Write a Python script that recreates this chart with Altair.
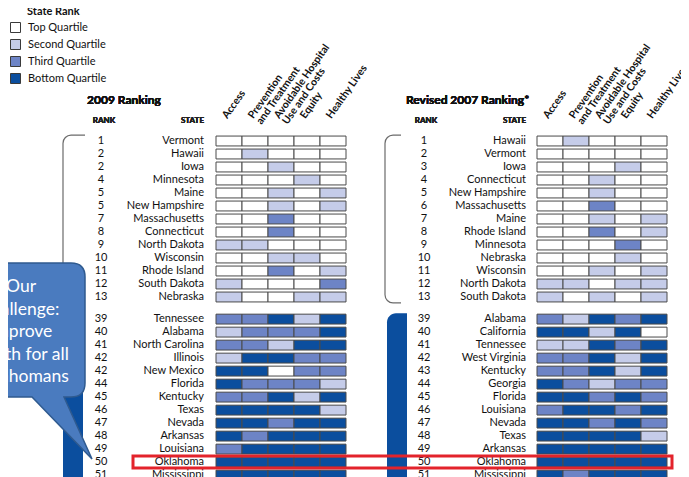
import altair as alt
import pandas as pd

# ---------------- data ----------------
measures = ["Access", "Prevention and Treatment", "Avoidable Hospital Use and Costs", "Equity", "Healthy Lives"]
header_labels = ["Access", "Prevention|and Treatment", "Avoidable Hospital|Use and Costs", "Equity", "Healthy Lives"]
quartiles = ["Top Quartile", "Second Quartile", "Third Quartile", "Bottom Quartile"]
quartile_colors = ["#ffffff", "#c5cce9", "#6d84c6", "#0b4e9e"]

ranks_2009 = [1, 2, 2, 4, 5, 5, 7, 8, 9, 10, 11, 12, 13, 39, 40, 41, 42, 42, 44, 45, 46, 47, 48, 49, 50, 51]
states_2009 = ["Vermont", "Hawaii", "Iowa", "Minnesota", "Maine", "New Hampshire", "Massachusetts",
               "Connecticut", "North Dakota", "Wisconsin", "Rhode Island", "South Dakota", "Nebraska",
               "Tennessee", "Alabama", "North Carolina", "Illinois", "New Mexico", "Florida", "Kentucky",
               "Texas", "Nevada", "Arkansas", "Louisiana", "Oklahoma", "Mississippi"]
access_2009 = [1, 1, 1, 1, 1, 1, 1, 1, 2, 1, 1, 2, 2, 3, 2, 3, 2, 4, 4, 3, 4, 4, 4, 3, 4, 4]
prevention_2009 = [1, 2, 1, 1, 1, 1, 1, 1, 2, 1, 1, 1, 1, 3, 3, 3, 4, 4, 3, 3, 4, 4, 3, 4, 4, 4]
avoidable_2009 = [1, 1, 2, 1, 2, 2, 3, 3, 1, 2, 3, 1, 1, 4, 3, 2, 4, 1, 3, 4, 4, 3, 4, 4, 4, 4]
equity_2009 = [1, 1, 1, 2, 1, 1, 1, 1, 1, 2, 1, 1, 2, 2, 3, 4, 3, 3, 3, 2, 4, 4, 4, 4, 4, 4]
healthy_2009 = [1, 1, 1, 1, 2, 2, 1, 1, 1, 1, 2, 3, 2, 4, 4, 4, 3, 3, 2, 4, 2, 4, 4, 4, 4, 4]

ranks_2007 = [1, 2, 3, 4, 5, 6, 7, 8, 9, 10, 11, 12, 13, 39, 40, 41, 42, 43, 44, 45, 46, 47, 48, 49, 50, 51]
states_2007 = ["Hawaii", "Vermont", "Iowa", "Connecticut", "New Hampshire", "Massachusetts", "Maine",
               "Rhode Island", "Minnesota", "Nebraska", "Wisconsin", "North Dakota", "South Dakota",
               "Alabama", "California", "Tennessee", "West Virginia", "Kentucky", "Georgia", "Florida",
               "Louisiana", "Nevada", "Texas", "Arkansas", "Oklahoma", "Mississippi"]
access_2007 = [1, 1, 1, 1, 1, 1, 1, 1, 1, 1, 1, 2, 2, 3, 4, 2, 3, 3, 4, 4, 3, 4, 4, 4, 4, 4]
prevention_2007 = [2, 1, 1, 1, 1, 1, 1, 1, 1, 1, 1, 2, 1, 2, 4, 2, 3, 3, 3, 4, 4, 4, 4, 4, 4, 3]
avoidable_2007 = [1, 1, 1, 2, 2, 3, 2, 3, 1, 1, 2, 1, 2, 4, 2, 4, 4, 4, 2, 3, 4, 3, 4, 4, 4, 4]
equity_2007 = [1, 1, 2, 1, 1, 1, 1, 1, 3, 2, 1, 2, 1, 3, 4, 3, 2, 2, 3, 4, 3, 4, 4, 4, 4, 4]
healthy_2007 = [1, 1, 1, 1, 1, 1, 2, 2, 1, 1, 2, 2, 2, 4, 1, 4, 4, 4, 3, 3, 4, 3, 2, 4, 4, 4]

bubble_lines = ["Our", "challenge:", "Improve", "health for all", "Oklahomans"]
highlight_state = "Oklahoma"

# ---------------- layout ----------------
W, H = 673, 469
TOP_N = 13
GAP = 0.7
ROW_PX = 13
Y0_PX = 133
FONT = "Lato"
DARK = quartile_colors[3]
Y_SCALE = alt.Scale(domain=[0, 26], range=[Y0_PX, Y0_PX + 26 * ROW_PX], nice=False, zero=False)


def Y(f):
    return alt.Y(f, type="quantitative", scale=Y_SCALE, axis=None)


def frames(panel, ranks, states, cols):
    cells, rows = [], []
    for i, (r, s) in enumerate(zip(ranks, states)):
        sl = i + (GAP if i >= TOP_N else 0)
        grp = "top" if i < TOP_N else "bottom"
        rows.append({"panel": panel, "rank": str(r), "state": s, "slot": sl, "group": grp})
        for m, c in zip(measures, cols):
            cells.append({"panel": panel, "state": s, "slot": sl, "measure": m, "quartile": quartiles[c[i] - 1]})
    rows = pd.DataFrame(rows)
    br = rows.groupby("group")["slot"].agg(["min", "max"]).reset_index()
    br["y0"] = br["min"] - 0.45
    br["y1"] = br["max"] + 0.45
    return pd.DataFrame(cells), rows, br


COLOR = alt.Color(
    "quartile:N",
    scale=alt.Scale(domain=quartiles, range=quartile_colors),
    title=None,
    legend=alt.Legend(orient="none", legendX=2, legendY=14, symbolType="square", symbolSize=100,
                      symbolStrokeColor="#3a3a3a", symbolStrokeWidth=1, symbolOpacity=1,
                      labelFont=FONT, labelFontSize=11, labelColor="#111111", labelOffset=7,
                      rowPadding=2, padding=0),
)

header_df = pd.DataFrame({"measure": measures, "label": header_labels})


def panel_layers(title, cells, rows, br, L):
    xs = alt.Scale(domain=measures, range=list(L["cells"]), paddingInner=0, paddingOuter=0)
    top = br[br.group == "top"]
    bottom = br[br.group == "bottom"]
    out = []
    out.append(alt.Chart(top).mark_rect(fillOpacity=0, stroke="#6b6b6b", strokeWidth=1.2, cornerRadius=8).encode(
        x=alt.value(L["br_x"]), x2=alt.value(L["br_x"] + 45), y=Y("y0"), y2=alt.Y2("y1")))
    out.append(alt.Chart(top).mark_rect(color="white").encode(
        x=alt.value(L["hook_x"]), x2=alt.value(L["hook_x"] + 30), y=alt.value(115), y2=alt.value(300)))
    out.append(alt.Chart(bottom).mark_rect(color=DARK, cornerRadiusTopLeft=9).encode(
        x=alt.value(L["strip"][0]), x2=alt.value(L["strip"][1]), y=Y("y0"), y2=alt.value(H + 20)))
    out.append(alt.Chart(cells).transform_calculate(c0="datum.slot - 0.38", c1="datum.slot + 0.38")
               .mark_rect(stroke="#4a4a4a", strokeWidth=1).encode(
        x=alt.X("measure:N", scale=xs, axis=None, sort=measures), y=Y("c0"), y2=alt.Y2("c1"), color=COLOR))
    out.append(alt.Chart(rows).mark_text(align="right", baseline="middle", font=FONT, fontSize=11, color="#111").encode(
        x=alt.value(L["state_x"]), y=Y("slot"), text="state:N"))
    out.append(alt.Chart(rows).mark_text(align="center", baseline="middle", font=FONT, fontSize=11, color="#111").encode(
        x=alt.value(L["rank_x"]), y=Y("slot"), text="rank:N"))
    out.append(alt.Chart(header_df).transform_calculate(lines="split(datum.label, '|')")
               .mark_text(angle=305, align="left", baseline="bottom", font=FONT, fontSize=10.5,
                          fontWeight="bold", lineHeight=10, color="#111").encode(
        x=alt.X("measure:N", scale=xs, axis=None, sort=measures, bandPosition=0.4),
        y=alt.value(112.5), text="lines:N"))
    out.append(alt.Chart(header_df).mark_text(align="left", baseline="middle", font=FONT, fontSize=12,
                                              fontWeight="bold", color="#111").encode(
        x=alt.value(L["title_x"]), y=alt.value(92), text=alt.value(title)))
    out.append(alt.Chart(header_df).mark_text(align="center", baseline="middle", font=FONT, fontSize=8,
                                              fontWeight="bold", color="#222").encode(
        x=alt.value(L["rank_hdr_x"]), y=alt.value(113), text=alt.value("RANK")))
    out.append(alt.Chart(header_df).mark_text(align="right", baseline="middle", font=FONT, fontSize=8,
                                              fontWeight="bold", color="#222").encode(
        x=alt.value(L["state_x"]), y=alt.value(113), text=alt.value("STATE")))
    return out


LEFT = dict(cells=(208, 338), rank_x=93, rank_hdr_x=96, state_x=196, title_x=79, br_x=55, hook_x=77, strip=(55, 75))
RIGHT = dict(cells=(529, 659), rank_x=416, rank_hdr_x=418, state_x=518, title_x=398, br_x=377, hook_x=393, strip=(379, 399))

c09, r09, b09 = frames("2009", ranks_2009, states_2009,
                       [access_2009, prevention_2009, avoidable_2009, equity_2009, healthy_2009])
c07, r07, b07 = frames("2007", ranks_2007, states_2007,
                       [access_2007, prevention_2007, avoidable_2007, equity_2007, healthy_2007])

layers = []
layers += panel_layers("2009 Ranking", c09, r09, b09, LEFT)
layers += panel_layers("Revised 2007 Ranking*", c07, r07, b07, RIGHT)

# highlight of the Oklahoma row
hl = r09[r09.state == highlight_state]
layers.append(alt.Chart(hl).transform_calculate(h0="datum.slot - 0.46", h1="datum.slot + 0.46")
              .mark_rect(fillOpacity=0, stroke="#e3232b", strokeWidth=3).encode(
    x=alt.value(125), x2=alt.value(664), y=Y("h0"), y2=alt.Y2("h1")))

# callout bubble
BUBBLE = ("M -60 255 L 63 255 Q 77 255 77 269 L 77 375 Q 77 389 63 389 "
          "L 56 389 L 84 451 L 24 389 L -60 389 Z")
one = pd.DataFrame({"k": [0]})
layers.append(alt.Chart(one).mark_point(shape=BUBBLE, size=4, filled=True, fill="#4a7bbf", stroke="#2f5a8f",
                                        strokeWidth=1.5, opacity=1).encode(x=alt.value(0), y=alt.value(0)))
layers.append(alt.Chart(one).mark_text(align="center", baseline="middle", font=FONT, fontSize=17.5,
                                       lineHeight=22.5, color="white").encode(
    x=alt.value(13), y=alt.value(279), text=alt.value(bubble_lines)))

# legend heading
layers.append(alt.Chart(one).mark_text(align="left", baseline="middle", font=FONT, fontSize=11,
                                       fontWeight="bold", color="#111").encode(
    x=alt.value(19), y=alt.value(4), text=alt.value("State Rank")))

chart = (alt.layer(*layers)
         .resolve_scale(x="independent")
         .properties(width=W, height=H, padding=0, autosize=alt.AutoSizeParams(type="none"))
         .configure_view(stroke="transparent"))

chart.save("out.html", embed_options={"renderer": "svg", "actions": False})
